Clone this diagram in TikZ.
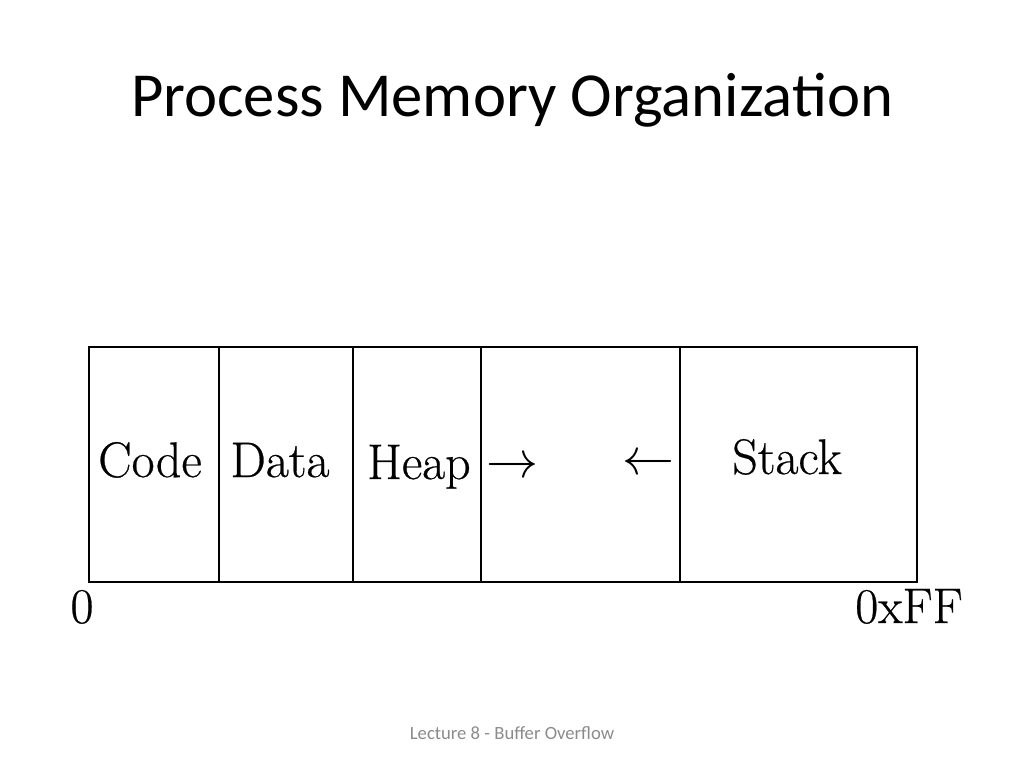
\documentclass[tikz,border=0pt]{standalone}
\usepackage{fontspec}
\newfontfamily\calibri{Carlito}
\newfontfamily\lbfont[FakeBold=0.5]{Latin Modern Roman}
\definecolor{footgray}{HTML}{8B8B8B}
\begin{document}
\begin{tikzpicture}[x=0.75pt,y=-0.75pt,
  cell/.style={draw=black,line width=1.2pt,minimum height=235*0.75pt,inner sep=0pt,anchor=north west},
  lbl/.style={font=\lbfont\fontsize{37.5}{42}\selectfont,anchor=base,inner sep=0pt},
  arr/.style={anchor=center,inner sep=0pt},
  title/.style={font=\calibri\fontsize{47}{52}\selectfont,anchor=base,inner sep=0pt},
  foot/.style={font=\calibri\fontsize{14}{16}\selectfont,text=footgray,anchor=base,inner sep=0pt}]
\useasboundingbox[fill=white] (0,0) rectangle (1024,768);
\node[title] (t) at (512,116) {Process Memory Organization};
\node[cell,minimum width=130*0.75pt] (code) at (88,346) {};
\node[cell,minimum width=134*0.75pt] (data) at (218,346) {};
\node[cell,minimum width=128*0.75pt] (heap) at (352,346) {};
\node[cell,minimum width=199*0.75pt] (free) at (480,346) {};
\node[cell,minimum width=237*0.75pt] (stack) at (679,346) {};
\node[lbl] (lc) at (150,477) {Code};
\node[lbl] (ld) at (280,477) {Data};
\node[lbl] (lh) at (419,479) {Heap};
\node[lbl] (ls) at (787,474) {Stack};
\node[arr] (ar) at (512,468) {\resizebox{39pt}{!}{$\rightarrow$}};
\node[arr] (al) at (648,465) {\resizebox{39pt}{!}{$\leftarrow$}};
\node[lbl] (z) at (82,623) {0};
\node[lbl] (ff) at (909,623) {0xFF};
\node[foot] (f) at (512,739) {Lecture 8 - Buffer Overflow};
\end{tikzpicture}
\end{document}
